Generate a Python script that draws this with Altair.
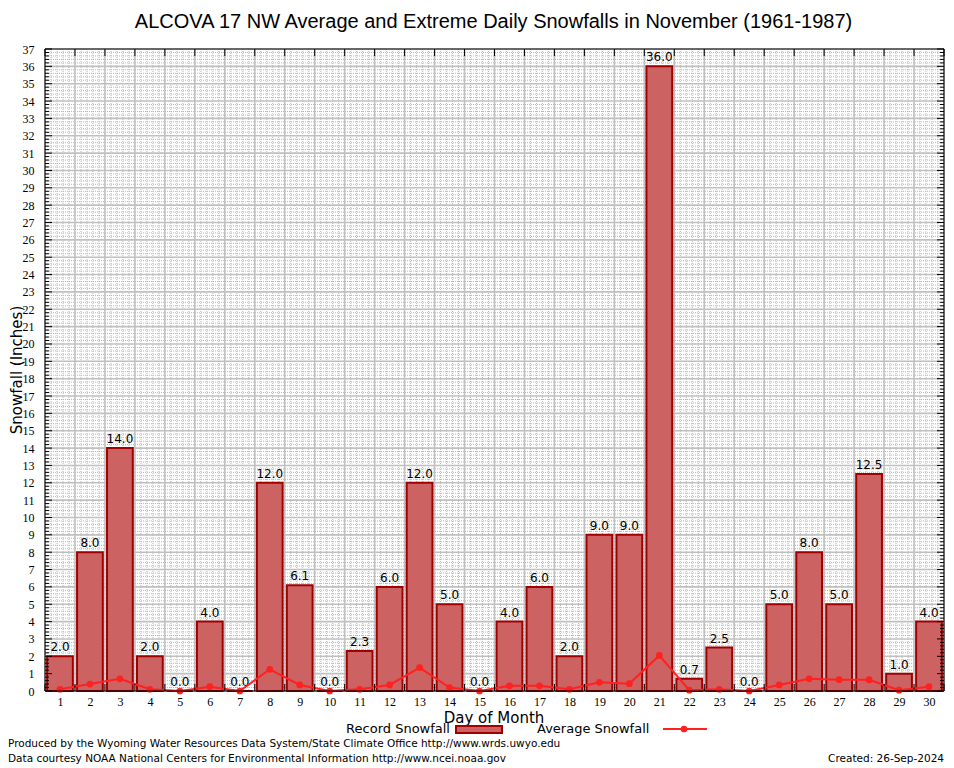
import altair as alt
import pandas as pd

# ---------------- data ----------------
days = list(range(1, 31))
record = [2.0, 8.0, 14.0, 2.0, 0.0, 4.0, 0.0, 12.0, 6.1, 0.0,
          2.3, 6.0, 12.0, 5.0, 0.0, 4.0, 6.0, 2.0, 9.0, 9.0,
          36.0, 0.7, 2.5, 0.0, 5.0, 8.0, 5.0, 12.5, 1.0, 4.0]
average = [0.1, 0.4, 0.7, 0.1, 0.0, 0.25, 0.0, 1.25, 0.35, 0.0,
           0.1, 0.35, 1.35, 0.2, 0.0, 0.3, 0.3, 0.1, 0.5, 0.42,
           2.05, 0.05, 0.1, 0.0, 0.35, 0.7, 0.65, 0.65, 0.05, 0.25]
y_tick_values = list(range(0, 38))
x_boundaries = [d + 0.5 for d in range(0, 31)]

title_text = "ALCOVA 17 NW Average and Extreme Daily Snowfalls in November (1961-1987)"
y_title = "Snowfall (Inches)"
x_title = "Day of Month"
legend_bar = "Record Snowfall"
legend_line = "Average Snowfall"
footer1 = "Produced by the Wyoming Water Resources Data System/State Climate Office http://www.wrds.uwyo.edu"
footer2 = "Data courtesy NOAA National Centers for Environmental Information http://www.ncei.noaa.gov"
footer3 = "Created: 26-Sep-2024"

# ---------------- style ----------------
W, H = 899, 642
BAR_FILL = "#cc6262"
BAR_STROKE = "#a00000"
LINE_COLOR = "#ff2020"
GRID = "#c0c0c0"
MINOR = "#b8b8b8"
SANS = "DejaVu Sans"
SERIF = "Liberation Serif"

xs = alt.Scale(domain=[0.5, 30.5], nice=False, zero=False)
ys = alt.Scale(domain=[0, 37], nice=False, zero=False)

df = pd.DataFrame({"day": days, "record": record, "average": average})
ydf = pd.DataFrame({"v": y_tick_values})
xdf = pd.DataFrame({"v": x_boundaries})

xaxis = alt.Axis(values=days, ticks=False, domain=False, grid=False,
                 labelFont=SERIF, labelFontSize=12, labelColor="black",
                 labelPadding=5, title=None, labelAngle=0, format="d")
yaxis = alt.Axis(values=y_tick_values, ticks=False, domain=False, grid=False,
                 labelFont=SERIF, labelFontSize=12, labelColor="black",
                 labelPadding=11, title=None, format="d")


def X(field):
    return alt.X(field, scale=xs, axis=xaxis, title=None)


def Y(field):
    return alt.Y(field, scale=ys, axis=yaxis, title=None)


not_int = "abs(datum.v - round(datum.v)) > 0.01"

# minor grid
minor_h = alt.Chart(alt.sequence(0, 37, 0.2, as_="v")).transform_filter(not_int).mark_rule(
    color=MINOR, strokeWidth=1, strokeDash=[1, 1]
).encode(y=Y("v:Q"), x=alt.value(0), x2=alt.value(W))

minor_v = alt.Chart(alt.sequence(0.5, 30.5, 0.2, as_="v")).transform_calculate(
    f="datum.v - 0.5").transform_filter("abs(datum.f - round(datum.f)) > 0.01").mark_rule(
    color=MINOR, strokeWidth=1, strokeDash=[1, 1]
).encode(x=X("v:Q"), y=alt.value(0), y2=alt.value(H))

# major grid
major_h = alt.Chart(ydf).mark_rule(color=GRID, strokeWidth=1.6).encode(
    y=Y("v:Q"), x=alt.value(0), x2=alt.value(W))
major_v = alt.Chart(xdf).mark_rule(color=GRID, strokeWidth=1.6).encode(
    x=X("v:Q"), y=alt.value(0), y2=alt.value(H))

# bars
bars = alt.Chart(df).transform_calculate(
    x1="datum.day - 0.43", x2="datum.day + 0.43"
).mark_rect(fill=BAR_FILL, stroke=BAR_STROKE, strokeWidth=2).encode(
    x=X("x1:Q"),
    x2="x2:Q",
    y=Y("record:Q"),
    y2=alt.datum(0),
)

labels = alt.Chart(df).mark_text(
    font=SANS, fontSize=12, color="black", baseline="alphabetic", dy=-5
).encode(
    x=X("day:Q"),
    y=Y("record:Q"),
    text=alt.Text("record:Q", format=".1f"),
)

avg_line = alt.Chart(df).mark_line(color=LINE_COLOR, strokeWidth=2).encode(
    x=X("day:Q"), y=Y("average:Q"))
avg_pts = alt.Chart(df).mark_point(filled=True, color=LINE_COLOR, size=45, opacity=1).encode(
    x=X("day:Q"), y=Y("average:Q"))

# inward ticks
minor_seq_y = alt.Chart(alt.sequence(0, 37, 0.2, as_="v")).transform_filter(not_int)
lt_major = alt.Chart(ydf).mark_rule(color="black", strokeWidth=1).encode(
    y=Y("v:Q"), x=alt.value(0), x2=alt.value(7))
rt_major = alt.Chart(ydf).mark_rule(color="black", strokeWidth=1).encode(
    y=Y("v:Q"), x=alt.value(W - 7), x2=alt.value(W))
lt_minor = minor_seq_y.mark_rule(color="black", strokeWidth=1).encode(
    y=Y("v:Q"), x=alt.value(0), x2=alt.value(4))
rt_minor = minor_seq_y.mark_rule(color="black", strokeWidth=1).encode(
    y=Y("v:Q"), x=alt.value(W - 4), x2=alt.value(W))
top_ticks = alt.Chart(xdf).mark_rule(color="black", strokeWidth=1).encode(
    x=X("v:Q"), y=alt.value(0), y2=alt.value(7))
bot_ticks = alt.Chart(xdf).mark_rule(color="black", strokeWidth=1).encode(
    x=X("v:Q"), y=alt.value(H - 7), y2=alt.value(H))

frame = alt.Chart(pd.DataFrame({"a": [0]})).mark_rect(
    fill=None, stroke="black", strokeWidth=1
).encode(x=alt.value(0), x2=alt.value(W), y=alt.value(0), y2=alt.value(H))


def txt(text, x, y, size, font=SANS, align="left", baseline="middle", angle=0):
    return alt.Chart(pd.DataFrame({"t": [text]})).mark_text(
        font=font, fontSize=size, align=align, baseline=baseline, angle=angle,
        color="black"
    ).encode(x=alt.value(x), y=alt.value(y), text="t:N")


title = txt(title_text, W / 2 - 1, -21, 20, font="Liberation Sans", align="center",
            baseline="alphabetic")
ytitle = txt(y_title, -28, H / 2, 15, align="center", angle=270)
xtitle = txt(x_title, 449, 669, 15, align="center")
leg1 = txt(legend_bar, 405, 680, 13, align="right")
leg2 = txt(legend_line, 492, 680, 13, align="left")
ft1 = txt(footer1, -37, 695, 10.5)
ft2 = txt(footer2, -37, 710, 10.5)
ft3 = txt(footer3, W, 710, 10.5, align="right")

one = pd.DataFrame({"a": [0]})
swatch = alt.Chart(one).mark_rect(fill=BAR_FILL, stroke=BAR_STROKE, strokeWidth=2).encode(
    x=alt.value(411), x2=alt.value(457), y=alt.value(677), y2=alt.value(684))
leg_line = alt.Chart(one).mark_rule(color=LINE_COLOR, strokeWidth=2).encode(
    x=alt.value(618), x2=alt.value(662), y=alt.value(680))
leg_pt = alt.Chart(one).mark_point(filled=True, color=LINE_COLOR, size=45, opacity=1).encode(
    x=alt.value(639), y=alt.value(680))

chart = alt.layer(
    minor_h, minor_v, major_h, major_v, bars, labels, avg_line, avg_pts,
    lt_major, rt_major, lt_minor, rt_minor, top_ticks, bot_ticks, frame,
    title, ytitle, xtitle, leg1, leg2, swatch, leg_line, leg_pt, ft1, ft2, ft3,
).properties(
    width=W, height=H, autosize="none",
    padding={"left": 37, "top": 41, "right": 2, "bottom": 75},
    background="white",
).configure_view(stroke=None)

chart.save("out.html", embed_options={"renderer": "svg", "actions": False})
